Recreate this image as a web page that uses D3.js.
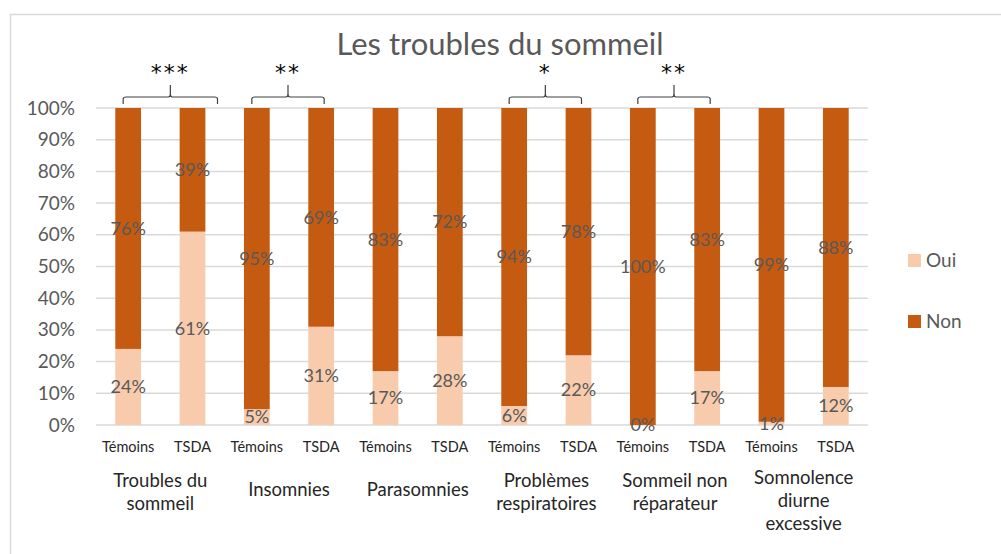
<!DOCTYPE html>
<html>
<head>
<meta charset="utf-8">
<script src="https://cdn.jsdelivr.net/npm/d3@7"></script>
<style>
  body { margin: 0; background: #fff; }
  svg { font-family: Lato, "Open Sans", sans-serif; display: block; }
</style>
</head>
<body>
<svg id="chart" width="1001" height="554"></svg>
<script>
const groups = ["Troubles du sommeil", "Insomnies", "Parasomnies", "Problèmes respiratoires", "Sommeil non réparateur", "Somnolence diurne excessive"];
const groupLines = [["Troubles du", "sommeil"], ["Insomnies"], ["Parasomnies"], ["Problèmes", "respiratoires"], ["Sommeil non", "réparateur"], ["Somnolence", "diurne", "excessive"]];
const subgroups = ["Témoins", "TSDA"];
const oui = [24, 61, 5, 31, 17, 28, 6, 22, 0, 17, 1, 12];
const non = [76, 39, 95, 69, 83, 72, 94, 78, 100, 83, 99, 88];
const yTicks = [0, 10, 20, 30, 40, 50, 60, 70, 80, 90, 100];
const significance = [
  { group: 0, stars: "***" },
  { group: 1, stars: "**" },
  { group: 3, stars: "*" },
  { group: 4, stars: "**" }
];
const seriesNames = ["Oui", "Non"];
const colors = { Oui: "#F8CBAD", Non: "#C55A11" };

const rows = [];
groups.forEach((g, gi) => subgroups.forEach((s, si) => {
  const i = gi * 2 + si;
  rows.push({ key: i, group: gi, sub: s, Oui: oui[i], Non: non[i] });
}));

const svg = d3.select("#chart");
const plotLeft = 96, plotRight = 868, plotTop = 108, plotBottom = 425;

// chart frame
svg.append("rect").attr("x", 10.5).attr("y", 14.5).attr("width", 1010).attr("height", 560)
  .attr("fill", "none").attr("stroke", "#D9D9D9").attr("stroke-width", 1.5);

const x = d3.scaleBand().domain(rows.map(d => d.key)).range([plotLeft, plotRight]).paddingInner(0.6).paddingOuter(0.3);
const y = d3.scaleLinear().domain([0, 100]).range([plotBottom, plotTop]);

// gridlines
svg.append("g").selectAll("line").data(yTicks).join("line")
  .attr("x1", plotLeft).attr("x2", plotRight)
  .attr("y1", d => y(d)).attr("y2", d => y(d))
  .attr("stroke", "#D9D9D9").attr("stroke-width", 1.5);

// y axis labels
const yAxis = svg.append("g").attr("transform", `translate(${plotLeft - 21},0)`)
  .call(d3.axisLeft(y).tickValues(yTicks).tickFormat(d => d + "%").tickSize(0).tickPadding(0));
yAxis.select(".domain").remove();
yAxis.selectAll("text").attr("fill", "#595959").attr("font-size", 19).attr("font-family", "Lato, sans-serif");

// stacked bars
const stack = d3.stack().keys(seriesNames)(rows);
const layer = svg.append("g").selectAll("g").data(stack).join("g").attr("fill", d => colors[d.key]);
layer.selectAll("rect").data(d => d).join("rect")
  .attr("x", d => x(d.data.key))
  .attr("width", x.bandwidth())
  .attr("y", d => y(d[1]))
  .attr("height", d => y(d[0]) - y(d[1]));

// data labels
stack.forEach(s => {
  svg.append("g").selectAll("text").data(s).join("text")
    .attr("x", d => x(d.data.key) + x.bandwidth() / 2)
    .attr("y", d => y((d[0] + d[1]) / 2))
    .attr("dy", "0.35em")
    .attr("text-anchor", "middle")
    .attr("fill", "#595959")
    .attr("font-size", 18)
    .text(d => d.data[s.key] + "%");
});

// sub-category labels
svg.append("g").selectAll("text").data(rows).join("text")
  .attr("x", d => x(d.key) + x.bandwidth() / 2)
  .attr("y", 452)
  .attr("text-anchor", "middle")
  .attr("fill", "#262626")
  .attr("font-size", 14.5)
  .text(d => d.sub);

// group labels
const groupCenter = gi => (x(gi * 2) + x(gi * 2 + 1) + x.bandwidth()) / 2;
groupLines.forEach((lines, gi) => {
  const first = Math.max(484, 496 - (lines.length - 1) * 9);
  const t = svg.append("text").attr("text-anchor", "middle").attr("fill", "#262626").attr("font-size", 18.5);
  lines.forEach((ln, li) => {
    t.append("tspan").attr("x", groupCenter(gi)).attr("y", first + li * 23).text(ln);
  });
});

// significance brackets
significance.forEach(s => {
  const c0 = x(s.group * 2) + x.bandwidth() / 2, c1 = x(s.group * 2 + 1) + x.bandwidth() / 2;
  const x0 = c0 - 5, x1 = c1 + (s.group === 0 ? 25 : 3);
  const xc = (x0 + x1) / 2;
  const path = d3.path();
  path.moveTo(x0, 104); path.lineTo(x0, 99); path.quadraticCurveTo(x0, 97, x0 + 3, 97);
  path.lineTo(xc - 2, 97); path.quadraticCurveTo(xc, 97, xc, 94); path.lineTo(xc, 85);
  path.moveTo(xc, 94); path.quadraticCurveTo(xc, 97, xc + 2, 97);
  path.lineTo(x1 - 3, 97); path.quadraticCurveTo(x1, 97, x1, 99); path.lineTo(x1, 104);
  svg.append("path").attr("d", path.toString()).attr("fill", "none")
    .attr("stroke", "#404040").attr("stroke-width", 1.2);
  svg.append("text").attr("x", xc).attr("y", 80).attr("text-anchor", "middle")
    .attr("fill", "#000").attr("font-size", 22).attr("font-family", "DejaVu Sans, sans-serif")
    .attr("letter-spacing", 2).text(s.stars);
});

// title
svg.append("text").attr("x", 500).attr("y", 55).attr("text-anchor", "middle")
  .attr("fill", "#595959").attr("font-size", 31).text("Les troubles du sommeil");

// legend
const legend = svg.append("g").selectAll("g").data(seriesNames).join("g")
  .attr("transform", (d, i) => `translate(908,${254 + i * 61})`);
legend.append("rect").attr("width", 13).attr("height", 13).attr("fill", d => colors[d]);
legend.append("text").attr("x", 18).attr("y", 13)
  .attr("fill", "#595959").attr("font-size", 19).text(d => d);
</script>
</body>
</html>
